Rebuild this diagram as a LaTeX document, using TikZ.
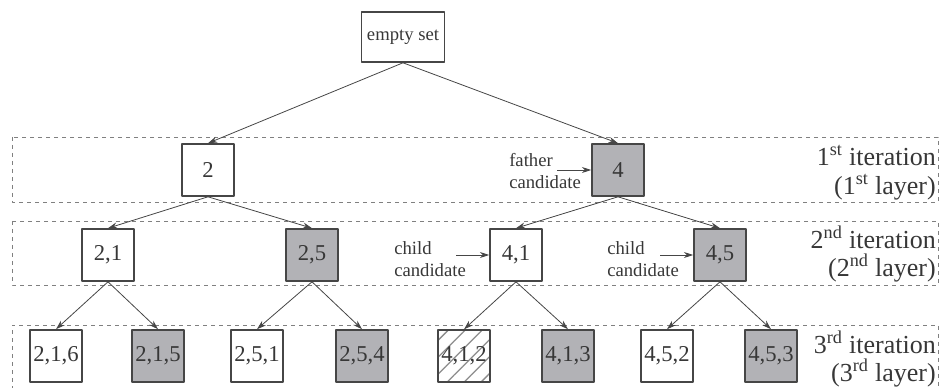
\documentclass[tikz,border=0pt]{standalone}
\usepackage{fontspec}
\setmainfont{Liberation Serif}
\usetikzlibrary{arrows.meta,patterns.meta}
\definecolor{boxline}{RGB}{70,70,70}
\definecolor{boxfill}{RGB}{178,178,182}
\definecolor{txt}{RGB}{55,55,55}
\tikzset{
	setbox/.style={draw=boxline,line width=1.2pt,minimum width=39pt,minimum height=39pt,inner sep=0pt,text=txt,font=\fontsize{17}{17}\selectfont},
	chosen/.style={setbox,fill=boxfill},
	pruned/.style={setbox,pattern={Lines[angle=45,distance=9pt,line width=1pt]},pattern color=gray!90},
	edge/.style={draw=boxline,line width=0.6pt,-{Stealth[length=7pt,width=4.5pt]}},
	layer/.style={draw=gray,dashed,line width=0.6pt},
	note/.style={text=txt,align=left,inner sep=0pt,anchor=west,font=\fontsize{14}{16.5}\selectfont},
	iter/.style={text=txt,align=right,inner sep=0pt,anchor=east,font=\fontsize{19.5}{21.5}\selectfont}
}
\begin{document}
\begin{tikzpicture}[x=0.75pt,y=-0.75pt,line join=round]
				\useasboundingbox (0,0) rectangle (940,388);
				% layers
				\draw[layer] (12,137) rectangle (938,202);
				\draw[layer] (12,221) rectangle (938,285);
				\draw[layer] (12,390) |- (938,325) -- (938,390);
				% tree
				\node[setbox,minimum width=62pt,minimum height=37.5pt,font=\fontsize{14}{14}\selectfont] (root) at (403,37) {empty set};
				\node[setbox] (n2) at (208,170) {2};
				\node[chosen] (n4) at (618,170) {4};
				\node[setbox] (n21) at (108,255) {2,1};
				\node[chosen] (n25) at (312,255) {2,5};
				\node[setbox] (n41) at (516,255) {4,1};
				\node[chosen] (n45) at (720,255) {4,5};
				\foreach \n/\t/\s/\x in {216/{2,1,6}/setbox/56,215/{2,1,5}/chosen/158,251/{2,5,1}/setbox/257,254/{2,5,4}/chosen/362,412/{4,1,2}/pruned/464,413/{4,1,3}/chosen/568,452/{4,5,2}/setbox/667,453/{4,5,3}/chosen/771}{\node[\s] (n\n) at (\x,356) {\t};}
				\foreach \p/\c in {root/n2,root/n4,n2/n21,n2/n25,n4/n41,n4/n45,n21/n216,n21/n215,n25/n251,n25/n254,n41/n412,n41/n413,n45/n452,n45/n453}{\draw[edge] (\p.south) -- (\c.north);}
				% candidates
				\node[note] (father) at (509,171) {father\\candidate};
				\node[note] (child1) at (394,259) {child\\candidate};
				\node[note] (child2) at (607,259) {child\\candidate};
				\coordinate (ftail) at (557,170);
				\coordinate (ctail1) at (456,255);
				\coordinate (ctail2) at (660,255);
				\draw[edge] (ftail) -- (n4.west);
				\draw[edge] (ctail1) -- (n41.west);
				\draw[edge] (ctail2) -- (n45.west);
				% iteration labels
				\node[iter] (it1) at (936,173) {1\textsuperscript{st} iteration\\(1\textsuperscript{st} layer)};
				\node[iter] (it2) at (936,254) {2\textsuperscript{nd} iteration\\(2\textsuperscript{nd} layer)};
				\node[iter] (it3) at (936,359) {3\textsuperscript{rd} iteration\\(3\textsuperscript{rd} layer)};
			\end{tikzpicture}
\end{document}
